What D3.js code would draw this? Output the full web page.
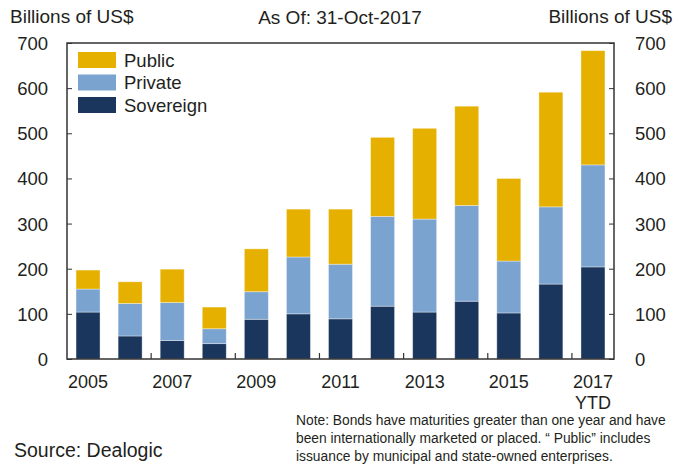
<!DOCTYPE html>
<html>
<head>
<meta charset="utf-8">
<script src="https://cdn.jsdelivr.net/npm/d3@7"></script>
<style>
  body { margin: 0; background: #fff; }
  text { font-family: "Liberation Sans", Arial, sans-serif; fill: #231f20; }
</style>
</head>
<body>
<div id="chart"></div>
<script>
// data (billions of US$)
var years = ["2005", "2006", "2007", "2008", "2009", "2010", "2011", "2012", "2013", "2014", "2015", "2016", "2017"];
var sovereign = [104, 51, 41, 34, 88, 100, 89, 117, 104, 128, 102, 166, 204];
var privateIss = [51, 72, 84, 33, 61, 126, 121, 199, 206, 212, 115, 171, 226];
var publicIss = [42, 48, 74, 48, 95, 106, 122, 175, 201, 220, 183, 254, 253];
var yTicks = [0, 100, 200, 300, 400, 500, 600, 700];
var seriesNames = ["Sovereign", "Private", "Public"];
var colors = { Sovereign: "#1b365d", Private: "#7ba3d0", Public: "#e6b000" };

var W = 674, H = 464;
var margin = { top: 43, right: 60, bottom: 105, left: 67 },
    width = W - margin.left - margin.right,
    height = H - margin.top - margin.bottom;

var svg = d3.select("#chart")
    .append("svg")
    .attr("width", W)
    .attr("height", H);

var g = svg.append("g")
    .attr("transform", "translate(" + margin.left + "," + margin.top + ")");

var rows = years.map(function(y, i) {
    return { year: y, Sovereign: sovereign[i], Private: privateIss[i], Public: publicIss[i] };
});
var stacked = d3.stack().keys(seriesNames)(rows);

var x = d3.scaleBand()
    .domain(years)
    .range([0, width])
    .paddingInner(0.43)
    .paddingOuter(0.215);

var y = d3.scaleLinear()
    .domain([0, 700])
    .range([height, 0]);

// bars
g.append("g")
    .selectAll("g")
    .data(stacked)
    .enter()
    .append("g")
    .attr("fill", function(d) { return colors[d.key]; })
    .selectAll("rect")
    .data(function(d) { return d; })
    .enter()
    .append("rect")
    .attr("x", function(d) { return x(d.data.year); })
    .attr("y", function(d) { return y(d[1]); })
    .attr("width", x.bandwidth())
    .attr("height", function(d) { return y(d[0]) - y(d[1]); })
    .attr("stroke", "#ffffff")
    .attr("stroke-opacity", 0.45)
    .attr("stroke-width", 0.8);

// frame
g.append("rect")
    .attr("width", width)
    .attr("height", height)
    .attr("fill", "none")
    .attr("stroke", "#333")
    .attr("stroke-width", 1.5);

// left axis
var left = g.append("g")
    .call(d3.axisLeft(y).tickValues(yTicks).tickSize(-5).tickPadding(19));
left.select(".domain").remove();
left.selectAll("line").attr("stroke", "#333");
left.selectAll("text")
    .style("font-size", "18.5px")
    .attr("fill", "#231f20")
    .attr("dy", "0.35em");

// right axis
var right = g.append("g")
    .attr("transform", "translate(" + width + ",0)")
    .call(d3.axisRight(y).tickValues(yTicks).tickSize(-5).tickPadding(21));
right.select(".domain").remove();
right.selectAll("line").attr("stroke", "#333");
right.selectAll("text")
    .style("font-size", "18.5px")
    .attr("fill", "#231f20")
    .attr("dy", "0.35em");

// x ticks between every second pair of bars
var step = x.step();
var boundaries = years.filter(function(d, i) { return i % 2 === 0 && i > 0; });
g.append("g")
    .selectAll("line")
    .data(boundaries)
    .enter()
    .append("line")
    .attr("x1", function(d) { return x(d) - (step - x.bandwidth()) / 2; })
    .attr("x2", function(d) { return x(d) - (step - x.bandwidth()) / 2; })
    .attr("y1", height)
    .attr("y2", height - 6)
    .attr("stroke", "#333")
    .attr("stroke-width", 1.2);

// x labels (last one gets a second line)
var labeled = years.filter(function(d, i) { return i % 2 === 0; });
var xLabels = g.append("g")
    .selectAll("text")
    .data(labeled)
    .enter()
    .append("text")
    .attr("x", function(d) { return x(d) + x.bandwidth() / 2; })
    .attr("y", height + 29)
    .attr("text-anchor", "middle")
    .style("font-size", "18px");
xLabels.append("tspan")
    .text(function(d) { return d; });
xLabels.filter(function(d) { return d === "2017"; })
    .append("tspan")
    .attr("x", x("2017") + x.bandwidth() / 2)
    .attr("dy", 20.5)
    .text("YTD");

// legend
var legendItems = ["Public", "Private", "Sovereign"];
var legend = g.append("g")
    .attr("transform", "translate(11,9)")
    .selectAll("g")
    .data(legendItems)
    .enter()
    .append("g")
    .attr("transform", function(d, i) { return "translate(0," + (i * 22.5) + ")"; });
legend.append("rect")
    .attr("width", 38)
    .attr("height", 16)
    .attr("fill", function(d) { return colors[d]; });
legend.append("text")
    .attr("x", 46)
    .attr("y", 14.5)
    .style("font-size", "18.5px")
    .text(function(d) { return d; });

// header
svg.append("text")
    .attr("x", 10)
    .attr("y", 23)
    .style("font-size", "19px")
    .text("Billions of US$");
svg.append("text")
    .attr("x", 340)
    .attr("y", 23.5)
    .attr("text-anchor", "middle")
    .style("font-size", "19px")
    .text("As Of: 31-Oct-2017");
svg.append("text")
    .attr("x", 672)
    .attr("y", 23)
    .attr("text-anchor", "end")
    .style("font-size", "19px")
    .text("Billions of US$");

// footer
svg.append("text")
    .attr("x", 14)
    .attr("y", 457)
    .style("font-size", "19.5px")
    .text("Source: Dealogic");

var noteLines = [
    "Note: Bonds have maturities greater than one year and have",
    "been internationally marketed or placed. \u201C Public\u201D includes",
    "issuance by municipal and state-owned enterprises."
];
svg.append("g")
    .selectAll("text")
    .data(noteLines)
    .enter()
    .append("text")
    .attr("x", 296)
    .attr("y", function(d, i) { return 425 + i * 18; })
    .style("font-size", "13.8px")
    .text(function(d) { return d; });
</script>
</body>
</html>
